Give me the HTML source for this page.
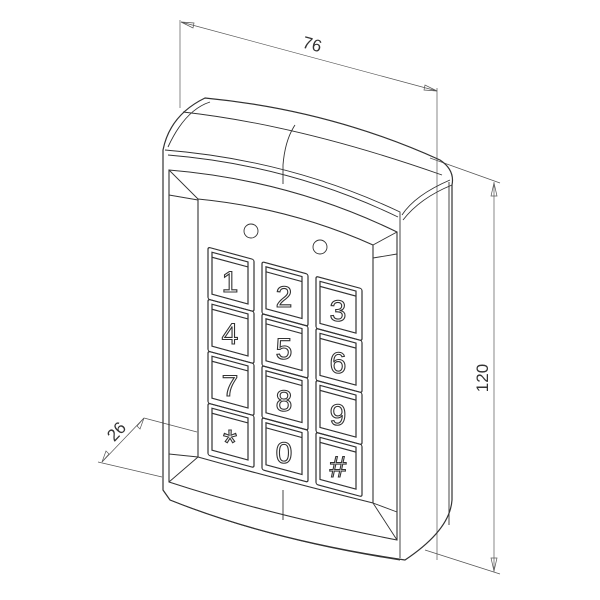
<!DOCTYPE html>
<html><head><style>html,body{margin:0;padding:0;background:#fff}svg{display:block}</style></head>
<body>
<svg width="600" height="600" viewBox="0 0 600 600" xmlns="http://www.w3.org/2000/svg" fill="none" stroke="#333" stroke-width="0.9">
<g stroke="#555" stroke-width="0.7">
<line x1="180" y1="20" x2="180" y2="108"/>
<line x1="437" y1="88" x2="437" y2="560"/>
<line x1="181" y1="22" x2="437" y2="91"/>
<path d="M181 22 L194 23 L193 28 Z"/>
<path d="M437 91 L424 90 L425 85 Z"/>
<line x1="494" y1="182" x2="494" y2="572"/>
<line x1="430" y1="158" x2="500" y2="183"/>
<line x1="425" y1="550" x2="500" y2="574"/>
<path d="M494 183 L491 196 L497 196 Z"/>
<path d="M494 571 L491 558 L497 558 Z"/>
<line x1="102" y1="462" x2="144" y2="418"/>
<line x1="144" y1="418" x2="197" y2="432"/>
<line x1="98" y1="462" x2="162" y2="477"/>
<path d="M102 462 L106 451 L109 454 Z"/>
<path d="M144 418 L140 429 L137 426 Z"/>
</g>
<g fill="#333" stroke="none" font-family="Liberation Sans, sans-serif" font-size="17">
<text x="312" y="50" text-anchor="middle" transform="rotate(15 312 45)">76</text>
<text x="483" y="383" text-anchor="middle" transform="rotate(-90 483 378)">120</text>
<text x="117" y="437" text-anchor="middle" transform="rotate(-47 117 432)">26</text>
</g>
<path d="M163 490 L163 150 Q170 115 205 98 Q330 110 440 160 Q455 170 452 185 L452 500 Q450 530 405 560 Q270 540 170 500 Z" stroke-width="1.2"/>
<path d="M165 150 Q290 160 400 212 L400 558"/>
<path d="M168 147 Q185 110 210 102"/>
<path d="M183 112 Q300 125 442 175"/>
<path d="M449 182 L449 525"/>
<path d="M402 215 Q415 195 450 180"/>
<path d="M403 220 Q420 198 452 185"/>
<path d="M295 125 Q285 140 283 165"/>
<path d="M168 155 Q290 165 398 217"/>
<path d="M170 500 Q270 540 400 560"/>
<path d="M169 170 Q290 180 397 232 L397 540 Q270 515 169 482 Z" stroke-width="1.1"/>
<path d="M198 199 Q290 208 373 245 L373 503 Q280 480 198 457 Z" stroke-width="1.1"/>
<line x1="169" y1="170" x2="198" y2="199"/>
<line x1="397" y1="232" x2="373" y2="245"/>
<line x1="169" y1="482" x2="198" y2="457"/>
<line x1="397" y1="540" x2="373" y2="503"/>
<line x1="169" y1="195" x2="198" y2="200"/>
<line x1="169" y1="454" x2="198" y2="457"/>
<line x1="373" y1="258" x2="397" y2="254"/>
<line x1="373" y1="503" x2="397" y2="512"/>
<line x1="283" y1="184" x2="283" y2="165"/>
<line x1="283" y1="490" x2="283" y2="520"/>
<circle cx="251" cy="231" r="7"/>
<circle cx="320" cy="247" r="7"/>
<g transform="matrix(1,0.27,0,1,0,0)" stroke-width="1.2">
<g transform="translate(208,191)"><rect width="46" height="52" rx="2"/><rect x="4" y="4" width="36" height="42"/><line x1="4" y1="9" x2="40" y2="9"/></g>
<g transform="translate(262,191)"><rect width="46" height="52" rx="2"/><rect x="4" y="4" width="36" height="42"/><line x1="4" y1="9" x2="40" y2="9"/></g>
<g transform="translate(316,191)"><rect width="46" height="52" rx="2"/><rect x="4" y="4" width="36" height="42"/><line x1="4" y1="9" x2="40" y2="9"/></g>
<g transform="translate(208,243)"><rect width="46" height="52" rx="2"/><rect x="4" y="4" width="36" height="42"/><line x1="4" y1="9" x2="40" y2="9"/></g>
<g transform="translate(262,243)"><rect width="46" height="52" rx="2"/><rect x="4" y="4" width="36" height="42"/><line x1="4" y1="9" x2="40" y2="9"/></g>
<g transform="translate(316,243)"><rect width="46" height="52" rx="2"/><rect x="4" y="4" width="36" height="42"/><line x1="4" y1="9" x2="40" y2="9"/></g>
<g transform="translate(208,295)"><rect width="46" height="52" rx="2"/><rect x="4" y="4" width="36" height="42"/><line x1="4" y1="9" x2="40" y2="9"/></g>
<g transform="translate(262,295)"><rect width="46" height="52" rx="2"/><rect x="4" y="4" width="36" height="42"/><line x1="4" y1="9" x2="40" y2="9"/></g>
<g transform="translate(316,295)"><rect width="46" height="52" rx="2"/><rect x="4" y="4" width="36" height="42"/><line x1="4" y1="9" x2="40" y2="9"/></g>
<g transform="translate(208,347)"><rect width="46" height="52" rx="2"/><rect x="4" y="4" width="36" height="42"/><line x1="4" y1="9" x2="40" y2="9"/></g>
<g transform="translate(262,347)"><rect width="46" height="52" rx="2"/><rect x="4" y="4" width="36" height="42"/><line x1="4" y1="9" x2="40" y2="9"/></g>
<g transform="translate(316,347)"><rect width="46" height="52" rx="2"/><rect x="4" y="4" width="36" height="42"/><line x1="4" y1="9" x2="40" y2="9"/></g>
</g>
<g fill="#fff" stroke="#333" stroke-width="1.1" font-family="Liberation Sans, sans-serif" font-size="30" text-anchor="middle">
<text x="230" y="292">1</text><text x="284" y="307">2</text><text x="338" y="321">3</text>
<text x="230" y="344">4</text><text x="284" y="359">5</text><text x="338" y="373">6</text>
<text x="230" y="396">7</text><text x="284" y="411">8</text><text x="338" y="425">9</text>
<text x="230" y="455" font-size="36">*</text><text x="284" y="463">0</text><text x="338" y="477">#</text>
</g>
</svg>
</body></html>
